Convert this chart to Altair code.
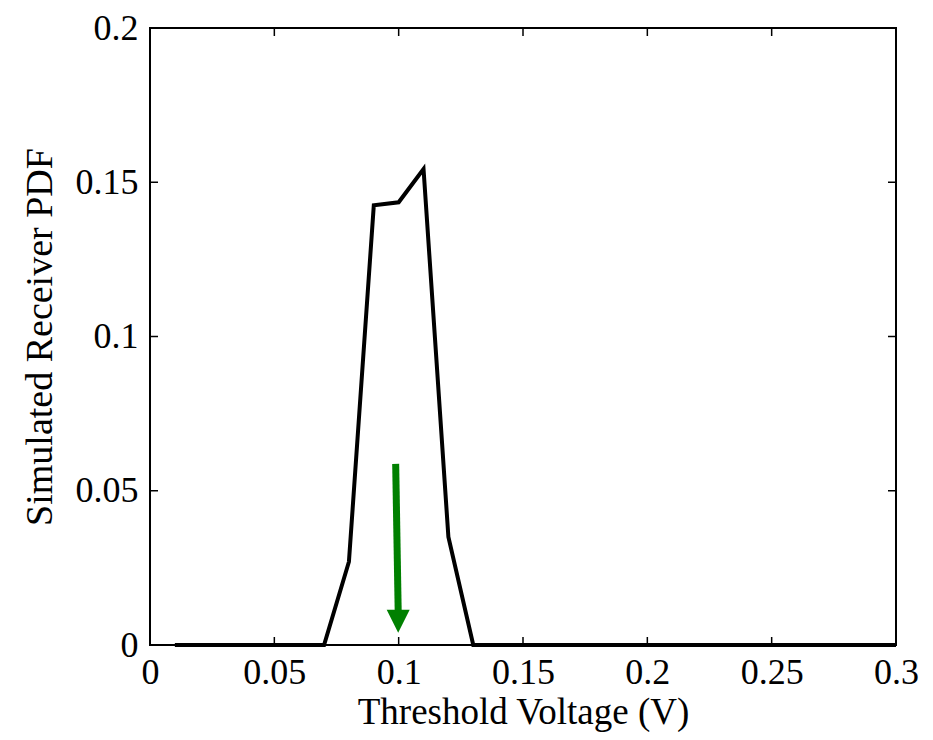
import altair as alt
import pandas as pd

# Data
volt = [0.01, 0.02, 0.03, 0.04, 0.05, 0.06, 0.07, 0.08, 0.09, 0.10,
        0.11, 0.12, 0.13, 0.14, 0.15, 0.16, 0.17, 0.18, 0.19, 0.20,
        0.21, 0.22, 0.23, 0.24, 0.25, 0.26, 0.27, 0.28, 0.29, 0.30]
pdf = [0, 0, 0, 0, 0, 0, 0, 0.027, 0.1425, 0.1435,
       0.1543, 0.035, 0, 0, 0, 0, 0, 0, 0, 0,
       0, 0, 0, 0, 0, 0, 0, 0, 0, 0]

x_ticks = [0, 0.05, 0.1, 0.15, 0.2, 0.25, 0.3]
y_ticks = [0, 0.05, 0.1, 0.15, 0.2]

arrow_x = [0.0988, 0.0998]
arrow_y = [0.0587, 0.0113]
head_x = [0.0998]
head_y = [0.0077]

W, H = 746, 617
FONT = "Liberation Serif"

df = pd.DataFrame({"v": volt, "p": pdf})
xs = alt.Scale(domain=[0, 0.3], nice=False, zero=False)
ys = alt.Scale(domain=[0, 0.2], nice=False, zero=False)

base_x = alt.X("v:Q", scale=xs, title="Threshold Voltage (V)",
               axis=alt.Axis(values=x_ticks, format="~g", tickSize=0, domain=False,
                             grid=False, labelPadding=10, titlePadding=4,
                             labelFont=FONT, labelFontSize=36, titleFont=FONT,
                             titleFontSize=37, titleFontWeight="normal",
                             labelColor="black", titleColor="black",
                             labelFlush=False, labelOverlap=False))
base_y = alt.Y("p:Q", scale=ys, title="Simulated Receiver PDF",
               axis=alt.Axis(values=y_ticks, format="~g", tickSize=0, domain=False,
                             grid=False, labelPadding=12, titlePadding=16,
                             labelFont=FONT, labelFontSize=36, titleFont=FONT,
                             titleFontSize=38, titleFontWeight="normal",
                             labelColor="black", titleColor="black",
                             labelFlush=False, labelOverlap=False))

line = alt.Chart(df).mark_line(color="black", strokeWidth=4, strokeJoin="miter").encode(
    x=base_x, y=base_y)

xt = pd.DataFrame({"t": x_ticks})
yt = pd.DataFrame({"t": y_ticks})
tick_style = dict(color="black", strokeWidth=1.5)
xtick_bottom = alt.Chart(xt).mark_rule(**tick_style).encode(
    x=alt.X("t:Q", scale=xs), y=alt.value(H), y2=alt.value(H - 8))
xtick_top = alt.Chart(xt).mark_rule(**tick_style).encode(
    x=alt.X("t:Q", scale=xs), y=alt.value(0), y2=alt.value(8))
ytick_left = alt.Chart(yt).mark_rule(**tick_style).encode(
    y=alt.Y("t:Q", scale=ys), x=alt.value(0), x2=alt.value(8))
ytick_right = alt.Chart(yt).mark_rule(**tick_style).encode(
    y=alt.Y("t:Q", scale=ys), x=alt.value(W), x2=alt.value(W - 8))

shaft_df = pd.DataFrame({"x1": [arrow_x[0]], "x2": [arrow_x[1]],
                         "y1": [arrow_y[0]], "y2": [arrow_y[1]]})
shaft = alt.Chart(shaft_df).mark_rule(color="#008000", strokeWidth=7).encode(
    x=alt.X("x1:Q", scale=xs), x2="x2:Q",
    y=alt.Y("y1:Q", scale=ys), y2="y2:Q")

head_df = pd.DataFrame({"x": head_x, "y": head_y})
head = alt.Chart(head_df).mark_point(
    shape="M-1,-1L1,-1L0,1Z", filled=True, color="#008000", opacity=1, size=529,
    strokeWidth=0).encode(
    x=alt.X("x:Q", scale=xs), y=alt.Y("y:Q", scale=ys))

chart = alt.layer(line, xtick_bottom, xtick_top, ytick_left, ytick_right, shaft, head).properties(
    width=W, height=H,
    autosize=alt.AutoSizeParams(type="none"),
    padding={"left": 142, "top": 20, "right": 29, "bottom": 87},
    background="white",
).configure_view(stroke="black", strokeWidth=2)

chart.save("out.html", embed_options={"renderer": "svg", "actions": False})
